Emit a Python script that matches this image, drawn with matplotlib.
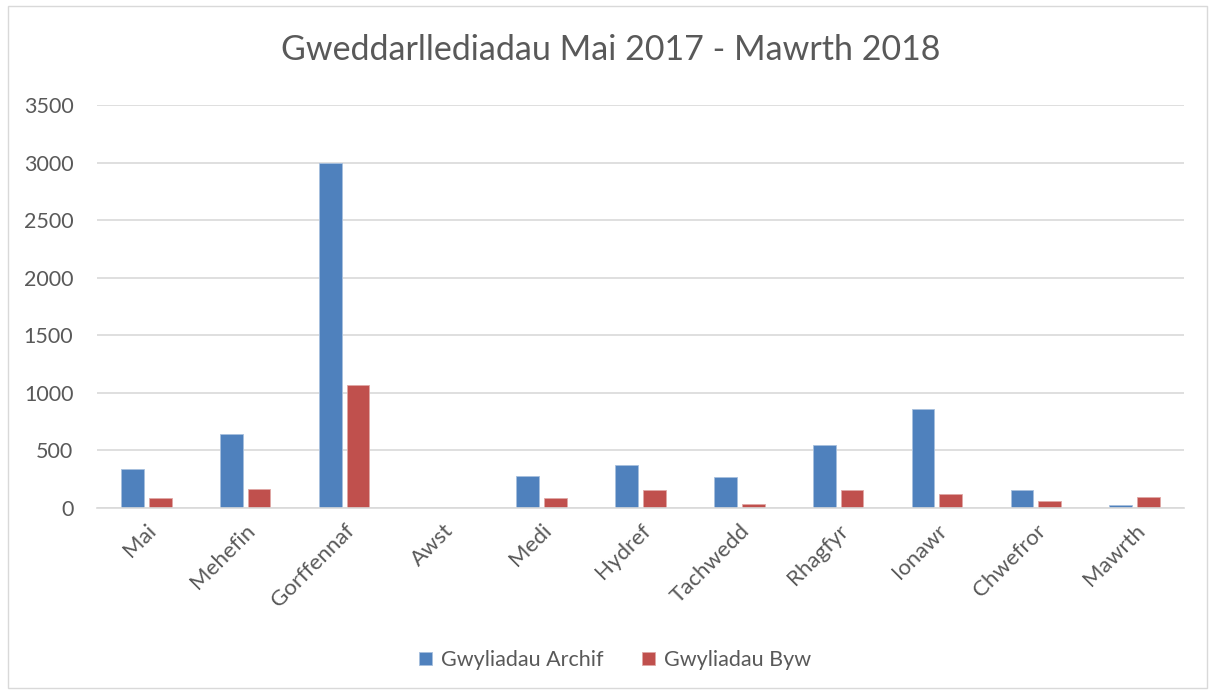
import numpy as np
import matplotlib.pyplot as plt
import matplotlib.patches as mpatches

plt.rcParams['font.family'] = ['Lato', 'DejaVu Sans']

misoedd = ['Mai', 'Mehefin', 'Gorffennaf', 'Awst', 'Medi', 'Hydref',
           'Tachwedd', 'Rhagfyr', 'Ionawr', 'Chwefror', 'Mawrth']
archif = [335, 640, 3000, 0, 277, 370, 268, 550, 861, 152, 24]
byw = [85, 163, 1068, 0, 85, 160, 38, 155, 120, 61, 96]

glas = '#4f81bd'
coch = '#c0504d'
testun = '#595959'
grid = '#d9d9d9'

fig = plt.figure(figsize=(12.14, 6.91), dpi=100)
ax = fig.add_axes([97/1214, 1 - 508/691, (1184-97)/1214, (508-105)/691])

x = np.arange(len(misoedd))
w = 0.23
ax.bar(x - 0.14, archif, w, color=glas, edgecolor='#a7c0de', linewidth=0.6, label='Gwyliadau Archif')
ax.bar(x + 0.14, byw, w, color=coch, edgecolor='#e0a8a6', linewidth=0.6, label='Gwyliadau Byw')

ax.set_xlim(-0.5, len(misoedd) - 0.5)
ax.set_ylim(0, 3500)
ax.set_yticks(np.arange(0, 3501, 500))
ax.yaxis.grid(True, color=grid, linewidth=1.2)
ax.set_axisbelow(True)
for s in ['top', 'right', 'left']:
    ax.spines[s].set_visible(False)
ax.spines['bottom'].set_color(grid)
ax.spines['bottom'].set_linewidth(1.2)
ax.tick_params(length=0, colors=testun, labelsize=15.5, pad=9)
ax.set_xticks(x)
ax.set_xticklabels(misoedd, rotation=45, ha='right', rotation_mode='anchor', fontsize=16)
ax.tick_params(axis='y', pad=17)
for lab in ax.get_xticklabels():
    lab.set_color(testun)

fig.text(611/1214, 1 - 50/691, 'Gweddarllediadau Mai 2017 - Mawrth 2018',
         ha='center', va='center', fontsize=24.5, color=testun)

leg = fig.legend(loc='center', bbox_to_anchor=(615/1214, 1 - 660/691), ncol=2,
                 frameon=False, fontsize=15.5, handlelength=0.6, handleheight=0.6,
                 columnspacing=1.8, handletextpad=0.4)
for t in leg.get_texts():
    t.set_color(testun)

fig.patches.append(mpatches.Rectangle((8/1214, 3/691), 1199/1214, 682/691,
                                      transform=fig.transFigure, fill=False,
                                      edgecolor=grid, linewidth=1))

fig.savefig('out.png', dpi=100)
